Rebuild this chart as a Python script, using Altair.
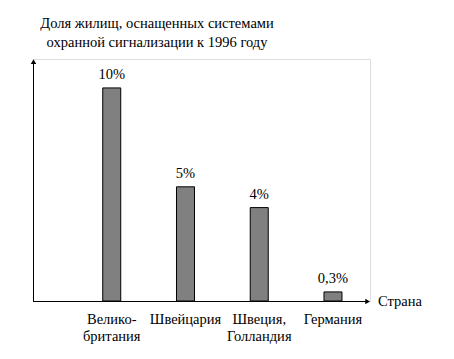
import altair as alt
import pandas as pd

countries = ["Велико-\nбритания", "Швейцария", "Швеция,\nГолландия", "Германия"]
positions = [1, 2, 3, 4]
values = [10, 5, 4, 0.3]
labels = ["10%", "5%", "4%", "0,3%"]
title_lines = "Доля жилищ, оснащенных системами\nохранной сигнализации к 1996 году"
axis_label = "Страна"

df = pd.DataFrame({"country": countries, "pos": positions, "value": values, "label": labels})

W, H = 337, 242
FONT = "Liberation Serif"
FS = 14.5

xs = alt.Scale(domain=[0, W / 76], nice=False, zero=True)
ys = alt.Scale(type="pow", exponent=0.9, domain=[0, 11.52], nice=False)

base = alt.Chart(df)

bars = base.mark_bar(size=18, fill="#808080", stroke="black", strokeWidth=1).encode(
    x=alt.X("pos:Q", scale=xs, axis=None),
    y=alt.Y("value:Q", scale=ys, axis=None),
)

vlabels = base.mark_text(font=FONT, fontSize=FS, baseline="alphabetic", dy=-9, color="black").encode(
    x=alt.X("pos:Q", scale=xs, axis=None),
    y=alt.Y("value:Q", scale=ys, axis=None),
    text="label:N",
)

clabels = base.mark_text(font=FONT, fontSize=FS, baseline="top", lineBreak="\n", lineHeight=17, color="black").encode(
    x=alt.X("pos:Q", scale=xs, axis=None),
    y=alt.value(H + 12),
    text="country:N",
)

xaxis = alt.Chart(pd.DataFrame({"a": [0]})).mark_rule(color="black", strokeWidth=1).encode(
    x=alt.value(0), x2=alt.value(W - 3), y=alt.value(H + 0.5)
)
yaxis = alt.Chart(pd.DataFrame({"a": [0]})).mark_rule(color="black", strokeWidth=1).encode(
    x=alt.value(0.5), y=alt.value(3), y2=alt.value(H)
)
yarrow = alt.Chart(pd.DataFrame({"a": [0]})).mark_point(
    shape="triangle-up", filled=True, color="black", size=30, opacity=1
).encode(x=alt.value(0.5), y=alt.value(2.6))
xarrow = alt.Chart(pd.DataFrame({"a": [0]})).mark_point(
    shape="triangle-right", filled=True, color="black", size=30, opacity=1
).encode(x=alt.value(W - 2.4), y=alt.value(H + 0.5))

xtitle = alt.Chart(pd.DataFrame({"t": [axis_label]})).mark_text(
    font=FONT, fontSize=FS, align="left", baseline="alphabetic", color="black"
).encode(x=alt.value(W + 8), y=alt.value(H + 5), text="t:N")

title = alt.Chart(pd.DataFrame({"t": [title_lines]})).mark_text(
    font=FONT, fontSize=FS, align="center", baseline="alphabetic", lineBreak="\n", lineHeight=19, color="black"
).encode(x=alt.value(124), y=alt.value(-31), text="t:N")

chart = alt.layer(bars, vlabels, clabels, xaxis, yaxis, yarrow, xarrow, xtitle, title).properties(
    width=W, height=H,
    autosize=alt.AutoSizeParams(type="none"),
    padding={"left": 25, "top": 51, "right": 76, "bottom": 50},
).configure_view(stroke=None).configure(background="white")

chart.save("out.html", embed_options={"renderer": "svg", "actions": False})
